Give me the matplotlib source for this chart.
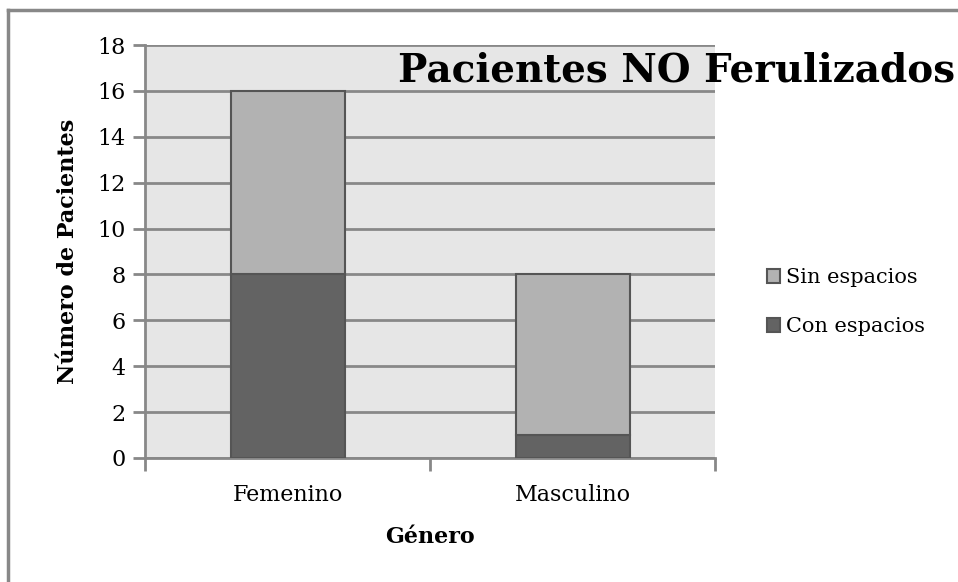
import matplotlib
matplotlib.use('Agg')
import matplotlib.pyplot as plt
import numpy as np
from matplotlib.lines import Line2D

plt.rcParams['font.family'] = ['DejaVu Serif']

generos = ['Femenino', 'Masculino']
con_espacios = [8, 1]
sin_espacios = [8, 7]
yticks = [0, 2, 4, 6, 8, 10, 12, 14, 16, 18]

DARK = '#636363'
LIGHT = '#b2b2b2'
EDGE = '#555555'
GRID = '#888888'

fig = plt.figure(figsize=(9.58, 5.82), dpi=100)
ax = fig.add_axes([145/958, 1 - 458/582, 570/958, 413/582])
ax.set_facecolor('#e6e6e6')

x = np.arange(len(generos))
ax.bar(x, con_espacios, width=0.4, color=DARK, edgecolor=EDGE, linewidth=1.5,
       label='Con espacios', zorder=3)
ax.bar(x, sin_espacios, width=0.4, bottom=con_espacios, color=LIGHT,
       edgecolor=EDGE, linewidth=1.5, label='Sin espacios', zorder=3)

ax.set_xlim(-0.5, 1.5)
ax.set_ylim(0, 18)
ax.set_yticks(yticks)
ax.yaxis.grid(True, color=GRID, linewidth=2, zorder=1)
ax.set_axisbelow(True)

# category boundary ticks on x, labels centred on bars
ax.set_xticks([-0.5, 0.5, 1.5])
ax.set_xticklabels([])
ax.set_xticks(x, minor=True)
ax.set_xticklabels(generos, minor=True, fontsize=16)
ax.tick_params(axis='x', which='minor', length=0, pad=19)
ax.tick_params(axis='x', which='major', length=9, width=2, color=GRID, direction='out')
ax.tick_params(axis='y', length=9, width=2, color=GRID, direction='out', labelsize=16, pad=5)

for s in ['top', 'right']:
    ax.spines[s].set_visible(False)
for s in ['left', 'bottom']:
    ax.spines[s].set_color(GRID)
    ax.spines[s].set_linewidth(2)

ax.set_ylabel('Número de Pacientes', fontsize=16, fontweight='bold', labelpad=13)
ax.set_xlabel('Género', fontsize=16, fontweight='bold', labelpad=14)

fig.text(0.997, 1 - 70/582, 'Pacientes NO Ferulizados', fontsize=28,
         fontweight='bold', ha='right', va='center')

handles, labels = ax.get_legend_handles_labels()
fig.legend(handles[::-1], labels[::-1], loc='center left',
           bbox_to_anchor=(748/958, 1 - 302/582), frameon=False,
           fontsize=15, handlelength=0.65, handleheight=0.65,
           handletextpad=0.25, labelspacing=1.45)

# outer border
fig.add_artist(Line2D([8/958, 8/958], [0, 1 - 10/582], color=GRID, linewidth=2.5))
fig.add_artist(Line2D([8/958, 1], [1 - 10/582, 1 - 10/582], color=GRID, linewidth=2.5))

fig.savefig('out.png', dpi=100)
